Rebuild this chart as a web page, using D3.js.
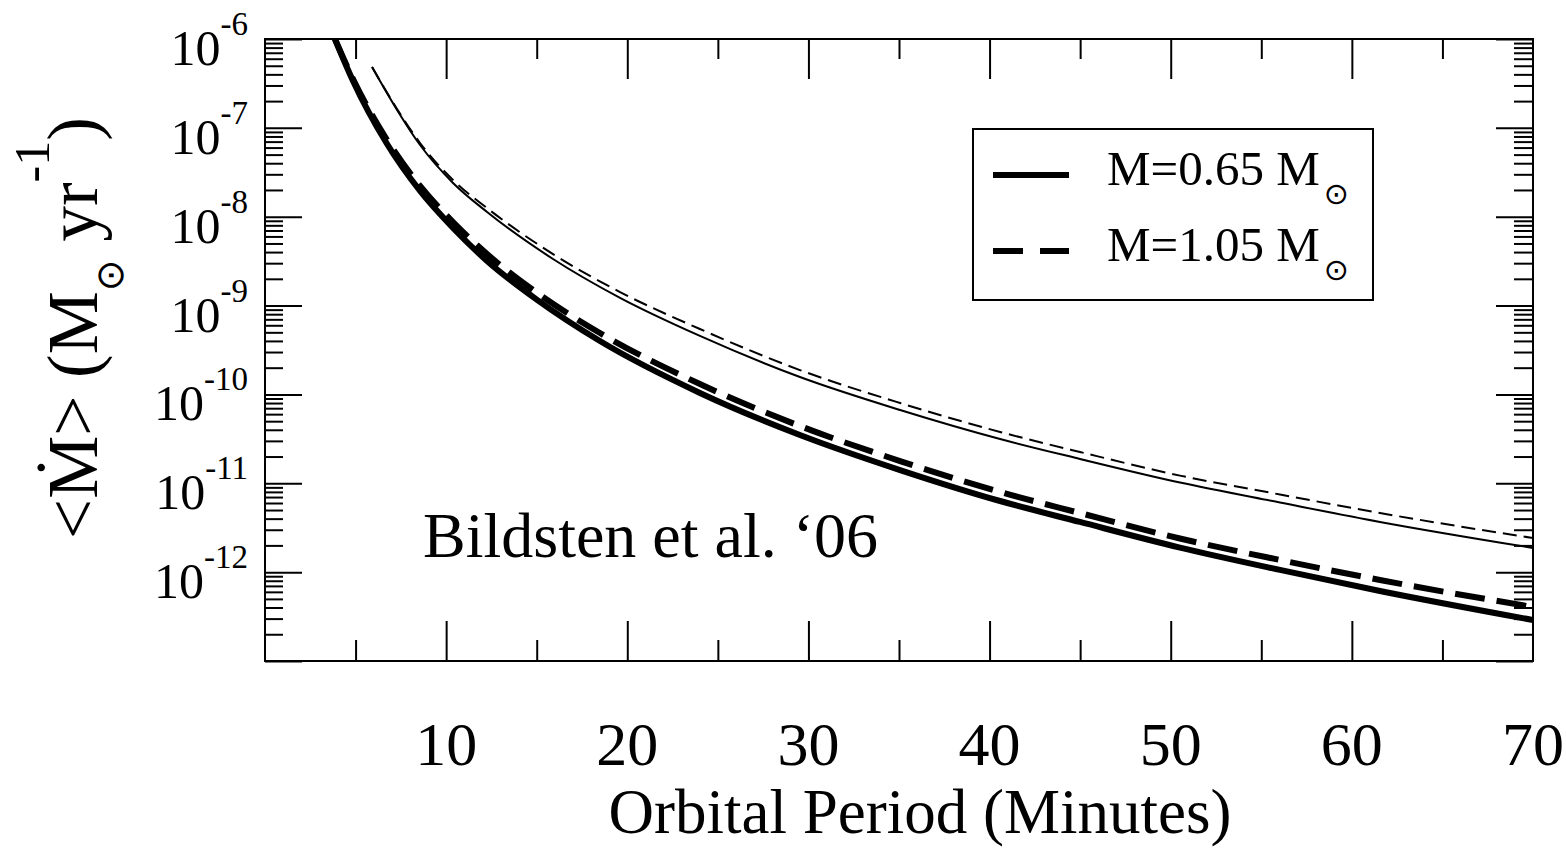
<!DOCTYPE html>
<html>
<head>
<meta charset="utf-8">
<title>Mass transfer rate vs orbital period</title>
<script src="https://d3js.org/d3.v7.min.js"></script>
<style>
  body { margin: 0; background: #fff; }
  text { font-family: "Liberation Serif", "Times New Roman", "DejaVu Serif", serif; fill: #000; }
  .axis path { display: none; }
  .axis line { stroke: #000; stroke-width: 2px; }
</style>
</head>
<body>
<svg width="1566" height="849"></svg>
<script>
// values (period in minutes, <Mdot> in Msun/yr)
// thick lines
const period065 = [3.86, 4.86, 6.74, 8.56, 10.38, 12.26, 15.02, 18.49, 24.01, 29.53, 35.06, 40.58, 44.99, 50.51, 56.03, 61.55, 70.0];
const mdot065 = [1.0e-6, 3.37e-7, 6.58e-8, 1.95e-8, 7.47e-9, 3.18e-9, 1.16e-9, 3.99e-10, 1.04e-10, 3.50e-11, 1.41e-11, 6.32e-12, 3.67e-12, 1.89e-12, 1.06e-12, 6.14e-13, 2.89e-13];

const period105 = [3.86, 4.86, 6.74, 8.56, 10.38, 12.26, 15.02, 18.49, 24.01, 29.53, 35.06, 40.58, 44.99, 50.51, 56.03, 61.55, 70.0];
const mdot105 = [1.0e-6, 3.55e-7, 7.30e-8, 2.22e-8, 8.72e-9, 3.80e-9, 1.39e-9, 4.91e-10, 1.31e-10, 4.41e-11, 1.78e-11, 7.98e-12, 4.63e-12, 2.39e-12, 1.37e-12, 8.16e-13, 4.05e-13];

// thin lines
const period065b = [5.91, 7.29, 8.56, 10.38, 12.26, 15.90, 19.60, 24.01, 29.53, 35.06, 40.58, 44.99, 50.51, 56.03, 61.55, 70.0];
const mdot065b = [4.84e-7, 1.59e-7, 6.41e-8, 2.40e-8, 1.13e-8, 3.34e-9, 1.22e-9, 4.55e-10, 1.57e-10, 6.68e-11, 3.15e-11, 1.88e-11, 1.02e-11, 6.08e-12, 3.67e-12, 1.87e-12];

const period105b = [5.91, 7.29, 8.56, 10.38, 12.26, 15.90, 19.60, 24.01, 29.53, 35.06, 40.58, 44.99, 50.51, 56.03, 61.55, 70.0];
const mdot105b = [4.84e-7, 1.63e-7, 6.75e-8, 2.59e-8, 1.25e-8, 3.80e-9, 1.42e-9, 5.45e-10, 1.88e-10, 8.01e-11, 3.78e-11, 2.25e-11, 1.22e-11, 7.48e-12, 4.63e-12, 2.42e-12];

const xMajor = [10, 20, 30, 40, 50, 60];
const xMinor = [5, 15, 25, 35, 45, 55, 65];
const xLabels = [10, 20, 30, 40, 50, 60, 70];
const yExponents = [-12, -11, -10, -9, -8, -7, -6];
const legendLabels = ["M=0.65 M", "M=1.05 M"];

const svg = d3.select("svg");
const plotLeft = 265, plotRight = 1533, plotTop = 39, plotBottom = 661;

const x = d3.scaleLinear().domain([0, 70]).range([plotLeft, plotRight]);
const y = d3.scaleLog().domain([1e-13, 1e-6]).range([plotBottom, plotTop]);

// tick values for the log axis
const yMajor = d3.range(-13, -5).map(e => Math.pow(10, e));
const yMinor = [];
d3.range(-13, -6).forEach(e => {
    for (let k = 2; k <= 9; k++) yMinor.push(k * Math.pow(10, e));
});

svg.append("defs").append("clipPath").attr("id", "plot")
    .append("rect").attr("x", plotLeft).attr("y", plotTop)
    .attr("width", plotRight - plotLeft).attr("height", plotBottom - plotTop);

// ticks on all four sides, pointing inward
function ticks(axis, tx, ty) {
    svg.append("g").attr("class", "axis")
        .attr("transform", `translate(${tx},${ty})`)
        .call(axis.tickFormat(""));
}
ticks(d3.axisBottom(x).tickValues(xMajor).tickSize(-40), 0, plotBottom);
ticks(d3.axisBottom(x).tickValues(xMinor).tickSize(-21), 0, plotBottom);
ticks(d3.axisTop(x).tickValues(xMajor).tickSize(-40), 0, plotTop);
ticks(d3.axisTop(x).tickValues(xMinor).tickSize(-20), 0, plotTop);
ticks(d3.axisLeft(y).tickValues(yMajor).tickSize(-37), plotLeft, 0);
ticks(d3.axisLeft(y).tickValues(yMinor).tickSize(-18), plotLeft, 0);
ticks(d3.axisRight(y).tickValues(yMajor).tickSize(-37), plotRight, 0);
ticks(d3.axisRight(y).tickValues(yMinor).tickSize(-19), plotRight, 0);

svg.append("rect")
    .attr("x", plotLeft).attr("y", plotTop)
    .attr("width", plotRight - plotLeft).attr("height", plotBottom - plotTop)
    .attr("fill", "none").attr("stroke", "#000").attr("stroke-width", 2);

// curves
const line = d3.line()
    .x(d => x(d[0]))
    .y(d => y(d[1]))
    .curve(d3.curveMonotoneX);

const series = [
    { p: period065b, m: mdot065b, w: 2, dash: null },
    { p: period105b, m: mdot105b, w: 2, dash: "14,7" },
    { p: period065, m: mdot065, w: 6, dash: null },
    { p: period105, m: mdot105, w: 6, dash: "30,12" }
];

const curves = svg.append("g").attr("clip-path", "url(#plot)");
series.forEach(s => {
    curves.append("path")
        .datum(d3.zip(s.p, s.m))
        .attr("d", line)
        .attr("fill", "none")
        .attr("stroke", "#000")
        .attr("stroke-width", s.w)
        .attr("stroke-dasharray", s.dash);
});

// y tick labels
yExponents.forEach(e => {
    const t = svg.append("text")
        .attr("x", 248)
        .attr("y", y(Math.pow(10, e)) + 26)
        .attr("text-anchor", "end")
        .attr("font-size", 50);
    t.append("tspan").text("10");
    t.append("tspan").attr("font-size", 33).attr("dy", -30).text(String(e));
});

// x tick labels
xLabels.forEach(v => {
    svg.append("text")
        .attr("x", x(v))
        .attr("y", 765)
        .attr("text-anchor", "middle")
        .attr("font-size", 62)
        .text(v);
});

svg.append("text")
    .attr("x", 920).attr("y", 833)
    .attr("text-anchor", "middle")
    .attr("font-size", 63)
    .text("Orbital Period (Minutes)");

// y axis title
const yt = svg.append("text")
    .attr("transform", "translate(97,328) rotate(-90)")
    .attr("text-anchor", "middle")
    .attr("font-size", 71);
yt.append("tspan").text("<Ṁ> (M");
yt.append("tspan").attr("font-size", 38).attr("dy", 26).attr("font-family", "DejaVu Sans").text("⊙");
yt.append("tspan").attr("dy", -26).text(" yr");
yt.append("tspan").attr("font-size", 50).attr("dy", -48).text("-1");
yt.append("tspan").attr("dy", 48).text(")");

svg.append("text")
    .attr("x", 423).attr("y", 557)
    .attr("font-size", 64)
    .text("Bildsten et al. \u201806");

// legend
const lg = svg.append("g");
lg.append("rect")
    .attr("x", 973).attr("y", 129).attr("width", 400).attr("height", 171)
    .attr("fill", "#fff").attr("stroke", "#000").attr("stroke-width", 2);
const legendDash = [null, "30,17"];
const legendY = [175, 251];
legendLabels.forEach((label, i) => {
    lg.append("line")
        .attr("x1", 993).attr("x2", 1069)
        .attr("y1", legendY[i]).attr("y2", legendY[i])
        .attr("stroke", "#000").attr("stroke-width", 6)
        .attr("stroke-dasharray", legendDash[i]);
    const t = lg.append("text")
        .attr("x", 1107).attr("y", legendY[i] + 10)
        .attr("font-size", 49);
    t.append("tspan").text(label);
    t.append("tspan").attr("font-size", 30).attr("dy", 19).attr("dx", 4).attr("font-family", "DejaVu Sans").text("⊙");
});
</script>
</body>
</html>
